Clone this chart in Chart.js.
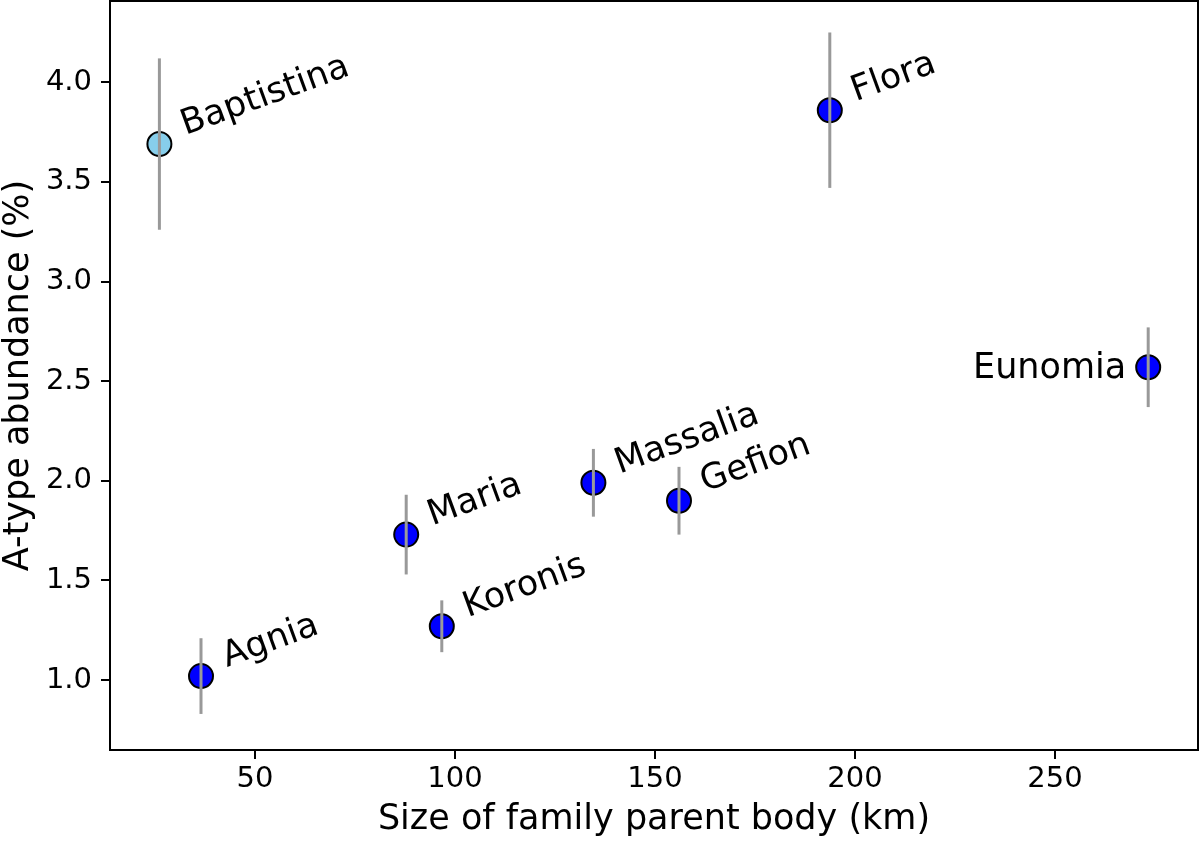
<!DOCTYPE html>
<html>
<head>
<meta charset="utf-8">
<script src="https://cdn.jsdelivr.net/npm/chart.js@4.4.0/dist/chart.umd.min.js"></script>
<style>
  html, body { margin: 0; padding: 0; background: #fff; }
</style>
</head>
<body>
<canvas id="chart" width="1200" height="841"></canvas>
<script>
// asteroid families
const families = ['Baptistina', 'Agnia', 'Maria', 'Koronis', 'Massalia', 'Gefion', 'Flora', 'Eunomia'];
const sizeKm = [26.1, 36.5, 87.8, 96.7, 134.6, 156.0, 193.7, 273.3];
const abundance = [3.69, 1.02, 1.73, 1.27, 1.99, 1.90, 3.86, 2.57];
const abundanceErr = [0.43, 0.19, 0.20, 0.13, 0.17, 0.17, 0.39, 0.20];
const xTicks = [50, 100, 150, 200, 250];
const yTicks = [1.0, 1.5, 2.0, 2.5, 3.0, 3.5, 4.0];

Chart.defaults.font.family = "'DejaVu Sans', sans-serif";
Chart.defaults.color = '#000';

const errorBars = {
    id: 'errorBars',
    afterDatasetsDraw(chart) {
        const ctx = chart.ctx;
        const xs = chart.scales.x, ys = chart.scales.y;
        ctx.save();
        ctx.strokeStyle = '#999999';
        ctx.lineWidth = 3;
        for (let i = 0; i < sizeKm.length; i++) {
            const px = xs.getPixelForValue(sizeKm[i]);
            ctx.beginPath();
            ctx.moveTo(px, ys.getPixelForValue(abundance[i] - abundanceErr[i]));
            ctx.lineTo(px, ys.getPixelForValue(abundance[i] + abundanceErr[i]));
            ctx.stroke();
        }
        ctx.restore();
    }
};

const pointLabels = {
    id: 'pointLabels',
    afterDatasetsDraw(chart) {
        const ctx = chart.ctx;
        const area = chart.chartArea;
        const xs = chart.scales.x, ys = chart.scales.y;
        ctx.save();
        ctx.font = "35px 'DejaVu Sans'";
        ctx.fillStyle = '#000';
        ctx.textBaseline = 'alphabetic';
        for (let i = 0; i < families.length; i++) {
            const px = xs.getPixelForValue(sizeKm[i]);
            const py = ys.getPixelForValue(abundance[i]);
            const w = ctx.measureText(families[i]).width;
            if (px + 26 + w > area.right) {
                // no room on the right: flat label to the left
                ctx.textAlign = 'right';
                ctx.fillText(families[i], px - 22, py + 11);
            } else {
                ctx.save();
                ctx.translate(px + 26, py - 9);
                ctx.rotate(-20 * Math.PI / 180);
                ctx.textAlign = 'left';
                ctx.fillText(families[i], 0, 0);
                ctx.restore();
            }
        }
        ctx.restore();
    }
};

const frame = {
    id: 'frame',
    afterDraw(chart) {
        const a = chart.chartArea;
        const ctx = chart.ctx;
        ctx.save();
        ctx.strokeStyle = '#000';
        ctx.lineWidth = 2;
        ctx.strokeRect(a.left, a.top, a.right - a.left, a.bottom - a.top);
        ctx.restore();
    }
};

function noPadding(scale) {
    scale.paddingTop = 0;
    scale.paddingBottom = 0;
    scale.paddingLeft = 0;
    scale.paddingRight = 0;
}

const points = sizeKm.map((x, i) => ({ x: x, y: abundance[i] }));

new Chart(document.getElementById('chart').getContext('2d'), {
    type: 'scatter',
    data: {
        datasets: [{
            data: points,
            pointRadius: 12,
            pointHoverRadius: 12,
            pointBorderWidth: 2,
            pointBorderColor: '#000',
            pointBackgroundColor: families.map((f, i) => i === 0 ? '#87ceeb' : '#0000ff')
        }]
    },
    options: {
        responsive: false,
        devicePixelRatio: 1,
        animation: false,
        layout: { autoPadding: false, padding: { top: 1, right: 2, left: 0, bottom: 0 } },
        plugins: {
            legend: { display: false },
            tooltip: { enabled: false }
        },
        scales: {
            x: {
                type: 'linear',
                min: 13.75,
                max: 285.75,
                afterBuildTicks: (scale) => { scale.ticks = xTicks.map(v => ({ value: v })); },
                afterFit: (scale) => { scale.height = 91; noPadding(scale); },
                ticks: { font: { size: 29 }, padding: 3, maxRotation: 0 },
                grid: { drawOnChartArea: false, drawTicks: true, tickLength: 9, color: '#000', lineWidth: 2 },
                border: { display: true, color: '#000', width: 2 },
                title: {
                    display: true,
                    text: 'Size of family parent body (km)',
                    font: { size: 35, lineHeight: 1 },
                    padding: { top: 0, bottom: 4 }
                }
            },
            y: {
                type: 'linear',
                min: 0.649,
                max: 4.408,
                afterBuildTicks: (scale) => { scale.ticks = yTicks.map(v => ({ value: v })); },
                afterFit: (scale) => { scale.width = 110; noPadding(scale); },
                ticks: { font: { size: 29 }, padding: 9, callback: (v) => v.toFixed(1) },
                grid: { drawOnChartArea: false, drawTicks: true, tickLength: 9, color: '#000', lineWidth: 2 },
                border: { display: true, color: '#000', width: 2 },
                title: {
                    display: true,
                    text: 'A-type abundance (%)',
                    font: { size: 35, lineHeight: 1 },
                    padding: { top: 1, bottom: 0 }
                }
            }
        }
    },
    plugins: [errorBars, pointLabels, frame]
});
</script>
</body>
</html>
